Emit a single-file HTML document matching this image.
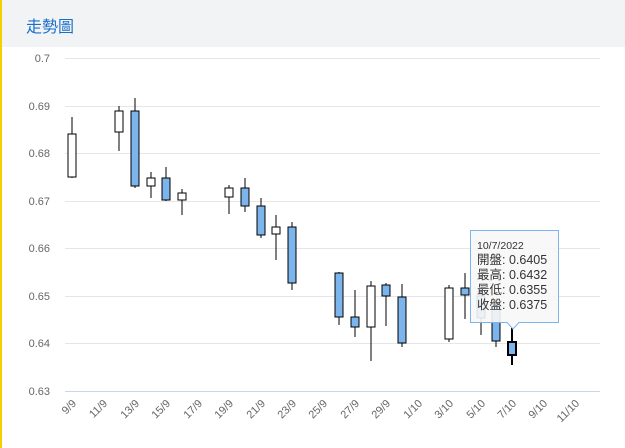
<!DOCTYPE html>
<html><head><meta charset="utf-8"><style>
body{margin:0;width:625px;height:448px;overflow:hidden;background:#fff;font-family:"Liberation Sans","Noto Sans CJK TC",sans-serif}
#hd{position:absolute;left:0;top:0;width:625px;height:47px;background:#f2f3f5}
#hd span{position:absolute;left:26px;top:13px;font-size:16px;color:#1a6fc9}
#bar{position:absolute;left:0;top:0;width:2px;height:448px;background:#f5d000}
svg{position:absolute;left:0;top:0}
</style></head><body>
<div id="hd"><span>走勢圖</span></div><div id="bar"></div>
<svg width="625" height="448" font-family="Liberation Sans, Noto Sans CJK TC, sans-serif">
<g stroke="#e6e6e6" stroke-width="1">
<line x1="65" x2="600" y1="58.5" y2="58.5"/><line x1="65" x2="600" y1="106.5" y2="106.5"/><line x1="65" x2="600" y1="153.5" y2="153.5"/><line x1="65" x2="600" y1="201.5" y2="201.5"/><line x1="65" x2="600" y1="248.5" y2="248.5"/><line x1="65" x2="600" y1="296.5" y2="296.5"/><line x1="65" x2="600" y1="343.5" y2="343.5"/>
</g>
<line x1="65" x2="600" y1="391.5" y2="391.5" stroke="#ccd6eb"/>
<g font-size="11" fill="#666" text-anchor="end">
<text x="50" y="62">0.7</text><text x="50" y="110">0.69</text><text x="50" y="157">0.68</text><text x="50" y="205">0.67</text><text x="50" y="252">0.66</text><text x="50" y="300">0.65</text><text x="50" y="347">0.64</text><text x="50" y="395">0.63</text>
</g>
<g font-size="11" fill="#666" text-anchor="end">
<text transform="translate(77,404) rotate(-45)">9/9</text>
<text transform="translate(108,404) rotate(-45)">11/9</text>
<text transform="translate(140,404) rotate(-45)">13/9</text>
<text transform="translate(171,404) rotate(-45)">15/9</text>
<text transform="translate(203,404) rotate(-45)">17/9</text>
<text transform="translate(234,404) rotate(-45)">19/9</text>
<text transform="translate(266,404) rotate(-45)">21/9</text>
<text transform="translate(297,404) rotate(-45)">23/9</text>
<text transform="translate(328,404) rotate(-45)">25/9</text>
<text transform="translate(360,404) rotate(-45)">27/9</text>
<text transform="translate(391,404) rotate(-45)">29/9</text>
<text transform="translate(423,404) rotate(-45)">1/10</text>
<text transform="translate(454,404) rotate(-45)">3/10</text>
<text transform="translate(486,404) rotate(-45)">5/10</text>
<text transform="translate(517,404) rotate(-45)">7/10</text>
<text transform="translate(548,404) rotate(-45)">9/10</text>
<text transform="translate(580,404) rotate(-45)">11/10</text>
</g>
<g stroke="#000" stroke-width="1">
<line x1="72" x2="72" y1="117" y2="178"/><rect x="68" y="134" width="8" height="43" fill="#fff"/>
<line x1="119" x2="119" y1="106" y2="151"/><rect x="115" y="111" width="8" height="21" fill="#fff"/>
<line x1="135" x2="135" y1="98" y2="188"/><rect x="131" y="111" width="8" height="75" fill="#7cb5ec"/>
<line x1="151" x2="151" y1="172" y2="198"/><rect x="147" y="178" width="8" height="8" fill="#fff"/>
<line x1="166" x2="166" y1="167" y2="201"/><rect x="162" y="178" width="8" height="22" fill="#7cb5ec"/>
<line x1="182" x2="182" y1="189" y2="215"/><rect x="178" y="193" width="8" height="7" fill="#fff"/>
<line x1="229" x2="229" y1="185" y2="214"/><rect x="225" y="188" width="8" height="9" fill="#fff"/>
<line x1="245" x2="245" y1="178" y2="212"/><rect x="241" y="188" width="8" height="18" fill="#7cb5ec"/>
<line x1="261" x2="261" y1="198" y2="238"/><rect x="257" y="206" width="8" height="29" fill="#7cb5ec"/>
<line x1="276" x2="276" y1="215" y2="260"/><rect x="272" y="227" width="8" height="7" fill="#fff"/>
<line x1="292" x2="292" y1="222" y2="290"/><rect x="288" y="227" width="8" height="56" fill="#7cb5ec"/>
<line x1="339" x2="339" y1="272" y2="325"/><rect x="335" y="273" width="8" height="44" fill="#7cb5ec"/>
<line x1="355" x2="355" y1="290" y2="337"/><rect x="351" y="317" width="8" height="10" fill="#7cb5ec"/>
<line x1="371" x2="371" y1="281" y2="361"/><rect x="367" y="286" width="8" height="41" fill="#fff"/>
<line x1="386" x2="386" y1="283" y2="326"/><rect x="382" y="285" width="8" height="11" fill="#7cb5ec"/>
<line x1="402" x2="402" y1="284" y2="347"/><rect x="398" y="297" width="8" height="46" fill="#7cb5ec"/>
<line x1="449" x2="449" y1="285" y2="342"/><rect x="445" y="288" width="8" height="51" fill="#fff"/>
<line x1="465" x2="465" y1="273" y2="319"/><rect x="461" y="288" width="8" height="7" fill="#7cb5ec"/>
<line x1="481" x2="481" y1="285" y2="335"/><rect x="477" y="296" width="8" height="22" fill="#7cb5ec"/>
<line x1="496" x2="496" y1="300" y2="347"/><rect x="492" y="305" width="8" height="36" fill="#7cb5ec"/>
<line x1="512" x2="512" y1="328" y2="365" stroke-width="2"/><rect x="508" y="342" width="8" height="13" fill="#7cb5ec" stroke-width="2"/>
</g>
<path d="M470.5,230.5 H558.5 V322.5 H519 L513,329 L507,322.5 H470.5 Z" fill="rgba(247,247,247,0.9)" stroke="#7cb5ec" stroke-width="1"/>
<g fill="#333" font-size="12.5">
<text x="477" y="249" font-size="10.5">10/7/2022</text>
<text x="477" y="264">開盤: 0.6405</text>
<text x="477" y="279">最高: 0.6432</text>
<text x="477" y="294">最低: 0.6355</text>
<text x="477" y="309">收盤: 0.6375</text>
</g>
</svg>
</body></html>
